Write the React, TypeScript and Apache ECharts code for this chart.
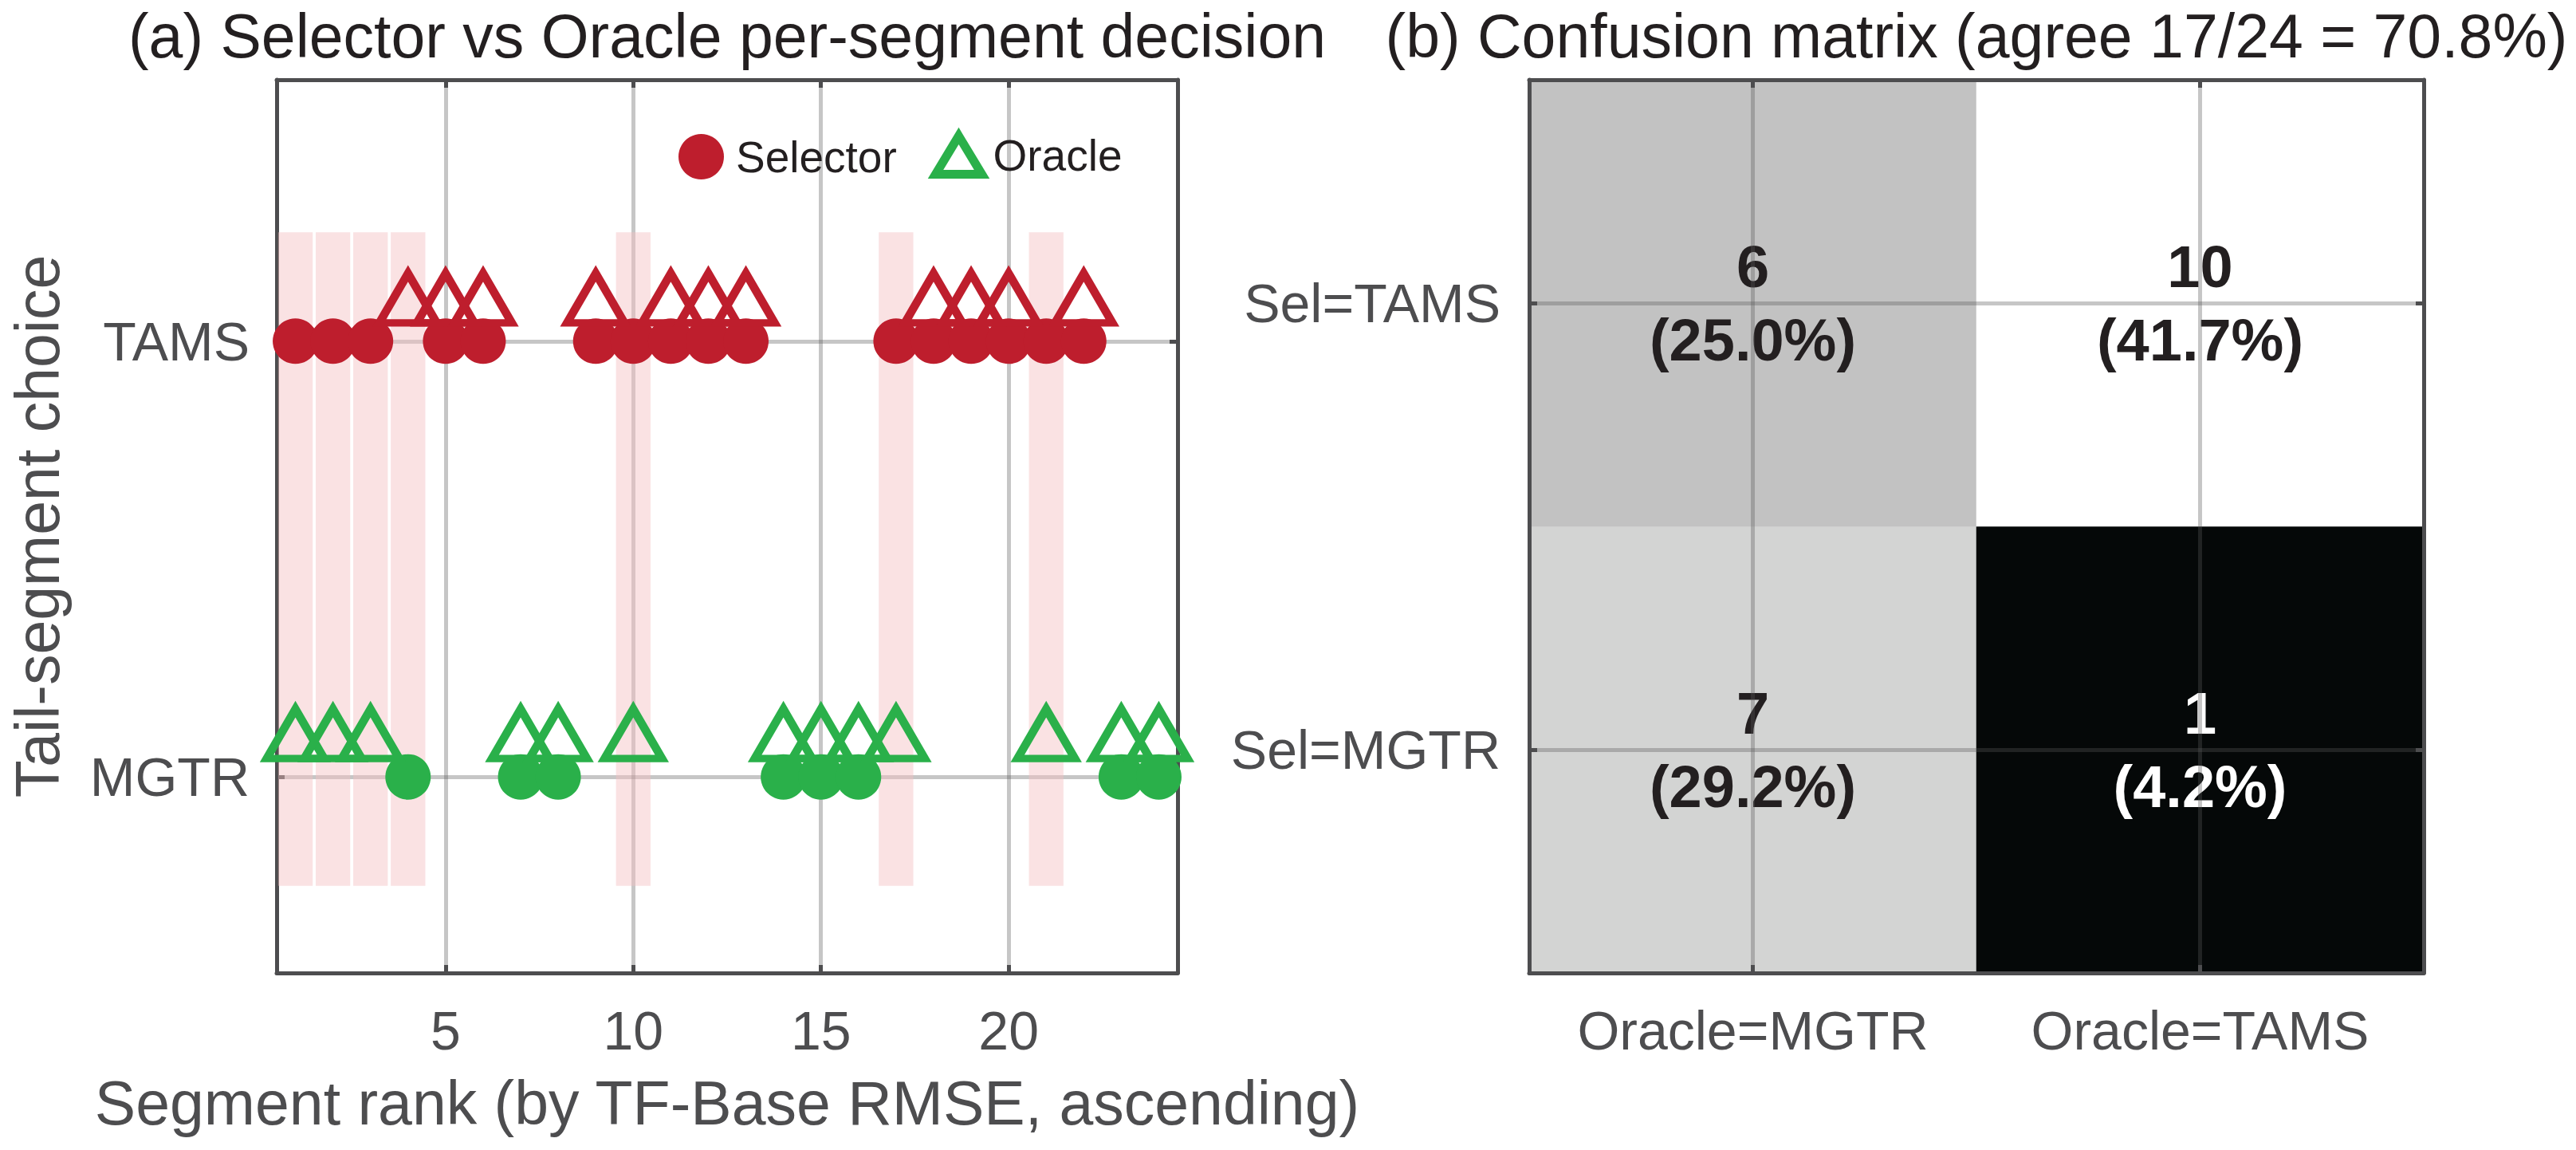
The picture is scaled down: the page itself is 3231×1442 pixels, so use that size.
import React, { useEffect, useRef } from 'react';
import * as echarts from 'echarts';

// ---------------- data ----------------
const segmentRank = [1, 2, 3, 4, 5, 6, 7, 8, 9, 10, 11, 12, 13, 14, 15, 16, 17, 18, 19, 20, 21, 22, 23, 24];
const selectorChoice = [
  'TAMS', 'TAMS', 'TAMS', 'MGTR', 'TAMS', 'TAMS', 'MGTR', 'MGTR', 'TAMS', 'TAMS', 'TAMS', 'TAMS',
  'TAMS', 'MGTR', 'MGTR', 'MGTR', 'TAMS', 'TAMS', 'TAMS', 'TAMS', 'TAMS', 'TAMS', 'MGTR', 'MGTR',
];
const oracleChoice = [
  'MGTR', 'MGTR', 'MGTR', 'TAMS', 'TAMS', 'TAMS', 'MGTR', 'MGTR', 'TAMS', 'MGTR', 'TAMS', 'TAMS',
  'TAMS', 'MGTR', 'MGTR', 'MGTR', 'MGTR', 'TAMS', 'TAMS', 'TAMS', 'MGTR', 'TAMS', 'MGTR', 'MGTR',
];
const choiceLabels = ['MGTR', 'TAMS']; // y = 0, 1
const xTickValues = [5, 10, 15, 20];
const yTickValues = [0, 1];
const oracleCategories = ['Oracle=MGTR', 'Oracle=TAMS'];
const selectorCategories = ['Sel=MGTR', 'Sel=TAMS'];

// ---------------- styles ----------------
const FONT = '"Liberation Sans", Arial, Helvetica, sans-serif';
const AX = '#4D4D4F';
const INK = '#231F20';
const RED = '#BE1E2D';
const GREEN = '#2AB04A';
const GRIDC = 'rgba(88,88,88,0.34)';
const BAND = 'rgba(245,190,193,0.45)';
const grayRamp = ['#050808', '#565858', '#797979', '#949494', '#ababab', '#c2c2c2', '#d3d4d3', '#e2e2e2', '#f1f1f1', '#ffffff'];

// ---------------- derived ----------------
const yOf = (c: string) => choiceLabels.indexOf(c);
const pts = (arr: string[], cat: string) =>
  segmentRank.filter((_, i) => arr[i] === cat).map((r) => [r, yOf(cat)]);
const disagree = segmentRank.filter((_, i) => selectorChoice[i] !== oracleChoice[i]);
const total = segmentRank.length;
const agree = total - disagree.length;

const counts: number[][] = [[0, 0], [0, 0]]; // [selIdx][oracleIdx]
segmentRank.forEach((_, i) => {
  counts[yOf(selectorChoice[i])][yOf(oracleChoice[i])] += 1;
});
const flat = counts.flat();
const cMin = Math.min(...flat);
const cMax = Math.max(...flat);
const heatData: any[] = [];
for (let yi = 0; yi < 2; yi++) {
  for (let xi = 0; xi < 2; xi++) {
    const v = counts[yi][xi];
    heatData.push({
      value: [xi, yi, v],
      label: { color: v < (cMin + cMax) / 2 ? '#FFFFFF' : INK },
    });
  }
}

const titleA = '(a) Selector vs Oracle per-segment decision';
const titleB = `(b) Confusion matrix (agree ${agree}/${total} = ${((agree / total) * 100).toFixed(1)}%)`;

const boxLine = { show: true, onZero: false, lineStyle: { color: AX, width: 5 } };
const inTick = { show: true, inside: true, length: 10, lineStyle: { color: AX, width: 5 } };
const tickLabel = { fontSize: 68, color: AX, fontFamily: FONT };

const triStyle = (c: string) => ({ color: 'rgba(0,0,0,0)', borderColor: c, borderWidth: 10, opacity: 1 });

const option: any = {
  animation: false,
  backgroundColor: '#FFFFFF',
  textStyle: { fontFamily: FONT },
  grid: [
    { left: 347, top: 100, width: 1130, height: 1120 },
    { left: 1918, top: 100, width: 1122, height: 1120 },
  ],
  xAxis: [
    {
      type: 'value', gridIndex: 0, position: 'bottom', min: 0.5, max: 24.5, splitNumber: 5,
      axisLine: boxLine,
      axisTick: { ...inTick, customValues: xTickValues },
      axisLabel: {
        ...tickLabel, margin: 38, customValues: xTickValues,
        formatter: (v: number) => (xTickValues.includes(v) ? String(v) : ''),
      },
      splitLine: { show: true, lineStyle: { color: GRIDC, width: 5 } },
      name: 'Segment rank (by TF-Base RMSE, ascending)',
      nameLocation: 'middle', nameGap: 124,
      nameTextStyle: { fontSize: 77, color: AX, fontFamily: FONT },
    },
    {
      type: 'value', gridIndex: 0, position: 'top', min: 0.5, max: 24.5, splitNumber: 5,
      axisLine: boxLine,
      axisTick: { ...inTick, customValues: xTickValues },
      axisLabel: { show: false },
      splitLine: { show: false },
    },
    {
      type: 'category', gridIndex: 1, position: 'bottom', data: oracleCategories, z: 10,
      axisLine: boxLine,
      axisTick: { ...inTick, alignWithLabel: true, interval: 0 },
      axisLabel: { ...tickLabel, margin: 38, interval: 0 },
      splitLine: { show: false },
    },
    {
      type: 'category', gridIndex: 1, position: 'top', data: oracleCategories, z: 10,
      axisLine: boxLine,
      axisTick: { ...inTick, alignWithLabel: true, interval: 0 },
      axisLabel: { show: false },
      splitLine: { show: false },
    },
  ],
  yAxis: [
    {
      type: 'value', gridIndex: 0, position: 'left', min: -0.45, max: 1.6, splitNumber: 2,
      axisLine: boxLine,
      axisTick: { ...inTick, customValues: yTickValues },
      axisLabel: {
        ...tickLabel, margin: 34, customValues: yTickValues,
        formatter: (v: number) => (yTickValues.includes(v) ? choiceLabels[v] : ''),
      },
      splitLine: { show: true, lineStyle: { color: GRIDC, width: 5 } },
      name: 'Tail-segment choice',
      nameLocation: 'middle', nameGap: 262,
      nameTextStyle: { fontSize: 77, color: AX, fontFamily: FONT },
    },
    {
      type: 'value', gridIndex: 0, position: 'right', min: -0.45, max: 1.6, splitNumber: 2,
      axisLine: boxLine,
      axisTick: { ...inTick, customValues: yTickValues },
      axisLabel: { show: false },
      splitLine: { show: false },
    },
    {
      type: 'category', gridIndex: 1, position: 'left', data: selectorCategories, z: 10,
      axisLine: boxLine,
      axisTick: { ...inTick, alignWithLabel: true, interval: 0 },
      axisLabel: { ...tickLabel, margin: 36, interval: 0 },
      splitLine: { show: false },
    },
    {
      type: 'category', gridIndex: 1, position: 'right', data: selectorCategories, z: 10,
      axisLine: boxLine,
      axisTick: { ...inTick, alignWithLabel: true, interval: 0 },
      axisLabel: { show: false },
      splitLine: { show: false },
    },
  ],
  visualMap: {
    type: 'continuous', show: false, seriesIndex: 4, dimension: 2,
    min: cMin, max: cMax, inRange: { color: grayRamp },
  },
  legend: [
    {
      data: [{ name: 'Selector', icon: 'circle', itemStyle: { color: RED, borderWidth: 0, opacity: 1 } }],
      left: 846, top: 163, itemWidth: 57, itemHeight: 57, selectedMode: false,
      textStyle: { fontSize: 55, color: INK, fontFamily: FONT, padding: [0, 0, 0, 10] },
    },
    {
      data: [{
        name: 'Oracle', icon: 'triangle',
        itemStyle: { color: 'rgba(0,0,0,0)', borderColor: GREEN, borderWidth: 11, opacity: 1 },
      }],
      left: 1163, top: 160, itemWidth: 58, itemHeight: 48, selectedMode: false,
      textStyle: { fontSize: 55, color: INK, fontFamily: FONT, padding: [15, 0, 0, 9] },
    },
  ],
  graphic: [
    {
      type: 'text', x: 912, y: 45, silent: true,
      style: { text: titleA, fontSize: 77, fontFamily: FONT, fill: INK, align: 'center', verticalAlign: 'middle' },
    },
    {
      type: 'text', x: 2479, y: 45, silent: true,
      style: { text: titleB, fontSize: 77, fontFamily: FONT, fill: INK, align: 'center', verticalAlign: 'middle' },
    },
  ],
  series: [
    {
      type: 'scatter', name: 'Selector', xAxisIndex: 0, yAxisIndex: 0,
      data: pts(selectorChoice, 'TAMS'), symbol: 'circle', symbolSize: 57,
      itemStyle: { color: RED, opacity: 1 }, emphasis: { disabled: true },
      markArea: {
        silent: true,
        itemStyle: { color: BAND, borderWidth: 0 },
        data: disagree.map((r) => [{ xAxis: r - 0.46, yAxis: -0.25 }, { xAxis: r + 0.46, yAxis: 1.25 }]),
      },
    },
    {
      type: 'scatter', name: 'Selector', xAxisIndex: 0, yAxisIndex: 0,
      data: pts(selectorChoice, 'MGTR'), symbol: 'circle', symbolSize: 57,
      itemStyle: { color: GREEN, opacity: 1 }, emphasis: { disabled: true },
    },
    {
      type: 'scatter', name: 'Oracle', xAxisIndex: 0, yAxisIndex: 0,
      data: pts(oracleChoice, 'TAMS'), symbol: 'triangle', symbolSize: [72, 62], symbolOffset: [0, -54],
      itemStyle: triStyle(RED), emphasis: { disabled: true },
    },
    {
      type: 'scatter', name: 'Oracle', xAxisIndex: 0, yAxisIndex: 0,
      data: pts(oracleChoice, 'MGTR'), symbol: 'triangle', symbolSize: [72, 62], symbolOffset: [0, -54],
      itemStyle: triStyle(GREEN), emphasis: { disabled: true },
    },
    {
      type: 'heatmap', xAxisIndex: 2, yAxisIndex: 2, data: heatData, emphasis: { disabled: true },
      label: {
        show: true, fontSize: 74, fontWeight: 'bold', lineHeight: 92, fontFamily: FONT,
        formatter: (p: any) => `${p.value[2]}\n(${((p.value[2] / total) * 100).toFixed(1)}%)`,
      },
      markLine: {
        silent: true, symbol: 'none', animation: false,
        label: { show: false },
        lineStyle: { color: GRIDC, width: 5, type: 'solid' },
        emphasis: { disabled: true },
        data: [
          { xAxis: oracleCategories[0] }, { xAxis: oracleCategories[1] },
          { yAxis: selectorCategories[0] }, { yAxis: selectorCategories[1] },
        ],
      },
    },
  ],
};

export default function App() {
  const ref = useRef<HTMLDivElement>(null);
  useEffect(() => {
    if (!ref.current) return;
    const chart = echarts.init(ref.current, null, { renderer: 'svg' });
    chart.setOption(option);
    return () => chart.dispose();
  }, []);
  return (
    <div
      ref={ref}
      style={{ position: 'fixed', left: 0, top: 0, width: 3231, height: 1442, background: '#FFFFFF' }}
    />
  );
}
